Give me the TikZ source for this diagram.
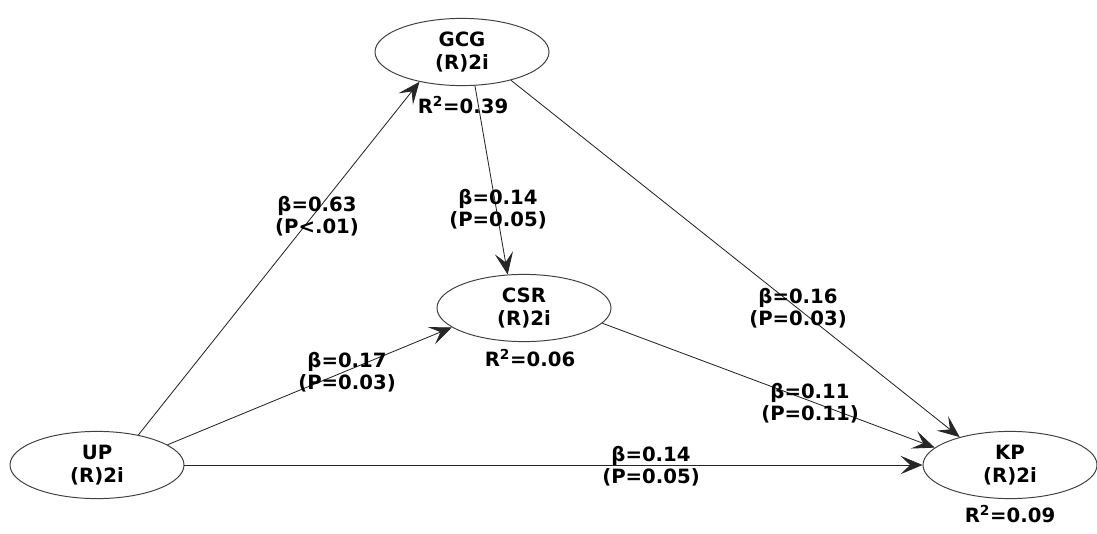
\documentclass[tikz,border=0pt]{standalone}
\usepackage{fontspec}
\setmainfont{DejaVu Sans}
\usepackage{tikz}
\usetikzlibrary{positioning, arrows.meta, shapes.geometric}

\begin{document}
\begin{tikzpicture}[
    latent/.style={ellipse, draw=black!75, line width=0.7pt, minimum width=4.35cm, minimum height=1.68cm, inner sep=0pt, align=center, font=\fontsize{14}{16.5}\selectfont\bfseries},
    arrow/.style={-{Stealth[length=5.5mm, width=4.6mm, inset=2.4mm]}, line width=0.6pt, black!85},
    coef/.style={align=center, inner sep=0pt, font=\fontsize{14}{15.8}\selectfont\bfseries},
    rsq/.style={inner sep=0pt, font=\fontsize{14}{16}\selectfont\bfseries}
]
    \useasboundingbox (0, 0) rectangle (27.425, 13.325);

    % === Constructs ===
    \node[latent] (GCG) at (11.55, 12.025) {GCG\\(R)2i};
    \node[latent] (CSR) at (13.1, 5.625) {CSR\\(R)2i};
    \node[latent] (UP) at (2.425, 1.7) {UP\\(R)2i};
    \node[latent] (KP) at (25.25, 1.7) {KP\\(R)2i};

    % R-squared values
    \node[rsq] (rGCG) at (11.575, 10.7) {R\textsuperscript{2}=0.39};
    \node[rsq] (rCSR) at (13.25, 4.375) {R\textsuperscript{2}=0.06};
    \node[rsq] (rKP) at (25.25, 0.475) {R\textsuperscript{2}=0.09};

    % === Paths ===
    \draw[arrow] (UP.36) -- (GCG.215);
    \draw[arrow] (GCG.291) -- (CSR.116);
    \draw[arrow] (UP.16) -- (CSR.195);
    \draw[arrow] (GCG.330) -- (KP.151);
    \draw[arrow] (CSR.349) -- (KP.167);
    \draw[arrow] (UP.east) -- (KP.west);

    % Path coefficients
    \node[coef] (cUG) at (7.925, 7.925) {β=0.63\\(P<.01)};
    \node[coef] (cGC) at (12.45, 8.1) {β=0.14\\(P=0.05)};
    \node[coef] (cUC) at (8.675, 4.025) {β=0.17\\(P=0.03)};
    \node[coef] (cGK) at (19.95, 5.625) {β=0.16\\(P=0.03)};
    \node[coef] (cCK) at (20.25, 3.25) {β=0.11\\(P=0.11)};
    \node[coef] (cUK) at (16.275, 1.675) {β=0.14\\(P=0.05)};

\end{tikzpicture}
\end{document}
